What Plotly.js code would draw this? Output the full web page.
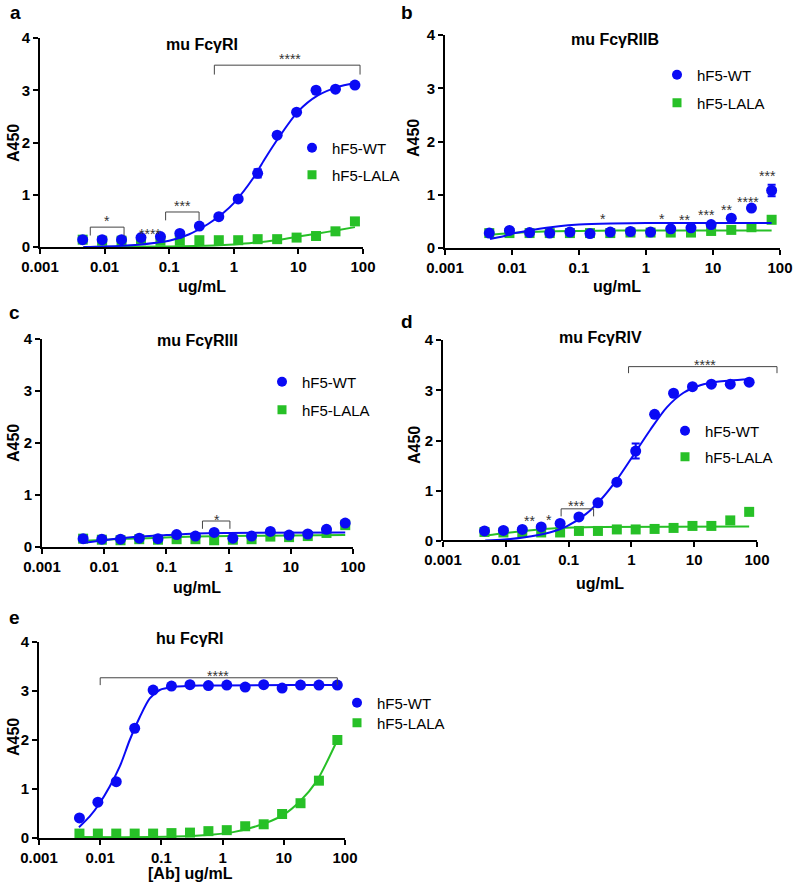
<!DOCTYPE html>
<html><head><meta charset="utf-8">
<script src="https://cdn.plot.ly/plotly-3.0.1.min.js"></script>
<style>body{margin:0;padding:0;background:#fff;} #chart{width:800px;height:886px;}</style>
</head><body><div id="chart"></div>
<script>
// ---------------- data ----------------
const conc = [0.00458, 0.00916, 0.0183, 0.0366, 0.0732, 0.146, 0.293, 0.586, 1.17, 2.34, 4.69, 9.38, 18.75, 37.5, 75];
const seriesNames = ['hF5-WT', 'hF5-LALA'];
const panelLetters = ['a', 'b', 'c', 'd', 'e'];
const panelTitles = ['mu FcγRI', 'mu FcγRIIB', 'mu FcγRIII', 'mu FcγRIV', 'hu FcγRI'];
const xTitles = ['ug/mL', 'ug/mL', 'ug/mL', 'ug/mL', '[Ab] ug/mL'];
const yTitleText = 'A450';
const xTickVals = [0.001, 0.01, 0.1, 1, 10, 100];
const xTickText = ['0.001', '0.01', '0.1', '1', '10', '100'];
const yTickVals = [0, 1, 2, 3, 4];

// panel a: mu FcγRI
const aWT    = [0.14, 0.14, 0.14, 0.18, 0.20, 0.26, 0.40, 0.58, 0.92, 1.41, 2.14, 2.58, 3.00, 3.02, 3.10];
const aWTerr = [0, 0, 0, 0, 0, 0, 0, 0, 0, 0.08, 0, 0, 0, 0, 0];
const aLALA  = [0.14, 0.12, 0.12, 0.13, 0.12, 0.12, 0.13, 0.13, 0.13, 0.15, 0.15, 0.18, 0.21, 0.30, 0.49];
const aWTfitX   = [0.0047, 0.01, 0.03, 0.1, 0.2, 0.4, 0.7, 1, 2, 3, 5, 10, 20, 40, 75];
const aWTfitY   = [0.00, 0.01, 0.04, 0.12, 0.24, 0.44, 0.66, 0.84, 1.32, 1.68, 2.10, 2.60, 2.90, 3.06, 3.14];
const aLALAfitX = [0.0047, 0.1, 0.5, 1, 2, 5, 10, 20, 40, 75];
const aLALAfitY = [0.00, 0.01, 0.03, 0.05, 0.08, 0.14, 0.20, 0.26, 0.32, 0.38];
const aBrackets = [[0.006, 0.02, 0.38, 0.22], [0.088, 0.29, 0.67, 0.51], [0.5, 90, 3.48, 3.30]];
const aStars    = [['*', 0.011, 0.58], ['****', 0.05, 0.33], ['***', 0.16, 0.86], ['****', 7.5, 3.68]];

// panel b: mu FcγRIIB
const bWT    = [0.28, 0.33, 0.29, 0.28, 0.30, 0.27, 0.30, 0.31, 0.30, 0.36, 0.38, 0.44, 0.56, 0.75, 1.08];
const bWTerr = [0, 0, 0, 0, 0, 0, 0, 0, 0, 0, 0, 0, 0, 0, 0.11];
const bLALA  = [0.28, 0.28, 0.28, 0.28, 0.28, 0.28, 0.28, 0.29, 0.29, 0.29, 0.29, 0.32, 0.34, 0.39, 0.53];
const bWTfitX   = [0.0047, 0.0075, 0.01, 0.02, 0.05, 0.1, 0.3, 1, 10, 75];
const bWTfitY   = [0.17, 0.22, 0.27, 0.34, 0.41, 0.44, 0.46, 0.47, 0.47, 0.47];
const bLALAfitX = [0.0047, 0.01, 0.03, 0.1, 1, 75];
const bLALAfitY = [0.25, 0.28, 0.31, 0.32, 0.33, 0.33];
const bBrackets = [];
const bStars    = [['*', 0.225, 0.62], ['*', 1.75, 0.62], ['**', 3.8, 0.6], ['***', 7.9, 0.69], ['**', 16, 0.79], ['****', 33, 0.94], ['***', 65.5, 1.42]];

// panel c: mu FcγRIII
const cWT    = [0.16, 0.15, 0.15, 0.17, 0.16, 0.24, 0.21, 0.28, 0.17, 0.21, 0.30, 0.23, 0.25, 0.34, 0.46];
const cWTerr = null;
const cLALA  = [0.16, 0.14, 0.13, 0.15, 0.14, 0.15, 0.15, 0.13, 0.14, 0.15, 0.20, 0.19, 0.21, 0.27, 0.42];
const cWTfitX   = [0.0047, 0.01, 0.03, 0.1, 0.3, 1, 75];
const cWTfitY   = [0.08, 0.13, 0.19, 0.23, 0.26, 0.27, 0.28];
const cLALAfitX = [0.0047, 0.01, 0.05, 0.3, 1, 10, 75];
const cLALAfitY = [0.12, 0.14, 0.17, 0.20, 0.21, 0.22, 0.23];
const cBrackets = [[0.38, 1.05, 0.50, 0.35]];
const cStars    = [['*', 0.64, 0.59]];

// panel d: mu FcγRIV
const dWT    = [0.20, 0.21, 0.23, 0.28, 0.35, 0.48, 0.76, 1.17, 1.79, 2.52, 2.94, 3.07, 3.12, 3.12, 3.16];
const dWTerr = [0, 0, 0, 0, 0, 0, 0, 0, 0.15, 0, 0, 0, 0, 0, 0];
const dLALA  = [0.18, 0.17, 0.17, 0.17, 0.17, 0.20, 0.20, 0.23, 0.23, 0.24, 0.26, 0.30, 0.30, 0.41, 0.58];
const dWTfitX   = [0.0047, 0.0094, 0.019, 0.05, 0.093, 0.19, 0.32, 0.58, 1.08, 1.99, 3.66, 6.76, 12.5, 23, 75];
const dWTfitY   = [0.01, 0.03, 0.07, 0.17, 0.29, 0.54, 0.81, 1.21, 1.71, 2.21, 2.66, 2.95, 3.10, 3.17, 3.22];
const dLALAfitX = [0.0047, 0.019, 0.07, 0.3, 75];
const dLALAfitY = [0.11, 0.20, 0.26, 0.28, 0.29];
const dBrackets = [[0.076, 0.25, 0.64, 0.49], [0.9, 208, 3.47, 3.34]];
const dStars    = [['**', 0.024, 0.48], ['*', 0.0485, 0.49], ['***', 0.134, 0.78], ['****', 15, 3.58]];

// panel e: hu FcγRI
const eWT    = [0.41, 0.73, 1.15, 2.24, 3.02, 3.10, 3.13, 3.11, 3.12, 3.08, 3.13, 3.06, 3.12, 3.12, 3.12];
const eWTerr = null;
const eLALA  = [0.09, 0.09, 0.09, 0.09, 0.09, 0.10, 0.11, 0.14, 0.16, 0.24, 0.28, 0.49, 0.71, 1.17, 2.00];
const eWTfitX   = [0.0045, 0.00675, 0.0098, 0.0143, 0.0209, 0.0304, 0.0444, 0.0646, 0.094, 0.156, 0.425, 75];
const eWTfitY   = [0.22, 0.44, 0.71, 1.05, 1.46, 2.00, 2.47, 2.85, 3.02, 3.08, 3.11, 3.12];
const eLALAfitX = [0.0045, 0.0646, 0.425, 1.49, 5.2, 9.8, 18.4, 34, 75];
const eLALAfitY = [0.02, 0.02, 0.05, 0.12, 0.31, 0.47, 0.75, 1.15, 2.00];
const eBrackets = [[0.01, 75, 3.27, 3.12]];
const eStars    = [['****', 0.85, 3.39]];

// ---------------- layout geometry (pixels) ----------------
const W = 800, H = 886;
const px = v => v / W, py = v => 1 - v / H;
const FONT = 'Liberation Sans, Arial, sans-serif';
const BLUE = '#0a0af5', GREEN = '#27c027', BRK = '#444';

const panels = [
  {wt: aWT, wtErr: aWTerr, lala: aLALA, wfx: aWTfitX, wfy: aWTfitY, lfx: aLALAfitX, lfy: aLALAfitY, br: aBrackets, st: aStars,
   box: [40, 363, 38, 247], xr: [-3, 2], title: [202, 44], letter: [15, 12], xt: [202, 287], yt: [13, 143], leg: [312, 148, 175]},
  {wt: bWT, wtErr: bWTerr, lala: bLALA, wfx: bWTfitX, wfy: bWTfitY, lfx: bLALAfitX, lfy: bLALAfitY, br: bBrackets, st: bStars,
   box: [445, 780, 35, 248], xr: [-3, 2], title: [615, 40], letter: [407, 12], xt: [617, 287], yt: [413, 138], leg: [677, 75, 103]},
  {wt: cWT, wtErr: cWTerr, lala: cLALA, wfx: cWTfitX, wfy: cWTfitY, lfx: cLALAfitX, lfy: cLALAfitY, br: cBrackets, st: cStars,
   box: [42, 353, 339, 547], xr: [-3, 2], title: [197, 340], letter: [14, 313], xt: [197, 587], yt: [13, 443], leg: [282, 382, 410]},
  {wt: dWT, wtErr: dWTerr, lala: dLALA, wfx: dWTfitX, wfy: dWTfitY, lfx: dLALAfitX, lfy: dLALAfitY, br: dBrackets, st: dStars,
   box: [443, 779, 340, 541], xr: [-3, 2.35], title: [600, 337], letter: [407, 321], xt: [600, 583], yt: [415, 445], leg: [685, 431, 457]},
  {wt: eWT, wtErr: eWTerr, lala: eLALA, wfx: eWTfitX, wfy: eWTfitY, lfx: eLALAfitX, lfy: eLALAfitY, br: eBrackets, st: eStars,
   box: [39, 345, 642, 838], xr: [-3, 2], title: [190, 638], letter: [14, 617], xt: [190, 873], yt: [13, 737], leg: [357, 703, 723]},
];

const traces = [];
const annotations = [];
const shapes = [];
const layout = {
  width: W, height: H, margin: {l: 0, r: 0, t: 0, b: 0},
  paper_bgcolor: '#fff', plot_bgcolor: 'rgba(0,0,0,0)',
  showlegend: true, annotations, shapes, hovermode: false,
  font: {family: FONT, color: '#000'}
};
const boldFont = (size) => ({family: FONT, size, color: '#000', weight: 'bold'});
const textAt = (x, y, text, font, extra) => Object.assign({xref: 'paper', yref: 'paper', x: px(x), y: py(y),
  xanchor: 'center', yanchor: 'middle', text, showarrow: false, font}, extra || {});

let legCount = 0;
function makeLegend(markerX, centerY) {
  legCount += 1;
  const id = legCount === 1 ? 'legend' : 'legend' + legCount;
  layout[id] = {x: px(markerX - 20), y: py(centerY), xanchor: 'left', yanchor: 'middle',
    font: {family: FONT, size: 15, color: '#000'}, bgcolor: 'rgba(0,0,0,0)',
    itemclick: false, itemdoubleclick: false};
  return id;
}

panels.forEach((p, i) => {
  const n = i + 1;
  const xa = n === 1 ? 'x' : 'x' + n, ya = n === 1 ? 'y' : 'y' + n;
  const [x0, x1, yTop, yBot] = p.box;
  const extended = p.xr[1] > 2;
  layout[n === 1 ? 'xaxis' : 'xaxis' + n] = {
    type: 'log', domain: [px(x0), px(x1)], anchor: ya, range: p.xr,
    tickvals: xTickVals, ticktext: xTickText, ticks: 'outside', ticklen: 5, tickwidth: 2, tickcolor: '#000',
    showline: !extended, linewidth: 2, linecolor: '#000', showgrid: false, zeroline: false,
    tickfont: boldFont(15), ticklabelstandoff: 0, fixedrange: true
  };
  layout[n === 1 ? 'yaxis' : 'yaxis' + n] = {
    domain: [py(yBot), py(yTop)], anchor: xa, range: [0, 4],
    tickvals: yTickVals, ticks: 'outside', ticklen: 5, tickwidth: 2, tickcolor: '#000',
    showline: true, linewidth: 2, linecolor: '#000', showgrid: false, zeroline: false,
    tickfont: boldFont(15), fixedrange: true
  };
  if (extended) {
    shapes.push({type: 'line', xref: xa, yref: ya + ' domain', x0: 0.001, x1: 100, y0: 0, y1: 0,
                 line: {color: '#000', width: 2}, layer: 'above'});
  }
  const legWT = makeLegend(p.leg[0], p.leg[1]);
  const legLALA = makeLegend(p.leg[0], p.leg[2]);

  // LALA markers + fit
  traces.push({type: 'scatter', mode: 'markers', x: conc, y: p.lala, xaxis: xa, yaxis: ya, showlegend: false,
    marker: {color: GREEN, symbol: 'square', size: 10}, cliponaxis: false});
  traces.push({type: 'scatter', mode: 'lines', x: p.lfx, y: p.lfy, xaxis: xa, yaxis: ya, showlegend: false,
    line: {color: GREEN, width: 2, shape: 'spline', smoothing: 0.8}});
  // WT markers + fit
  traces.push({type: 'scatter', mode: 'markers', x: conc, y: p.wt, xaxis: xa, yaxis: ya, showlegend: false,
    marker: {color: BLUE, symbol: 'circle', size: 11}, cliponaxis: false});
  if (p.wtErr) {
    traces.push({type: 'scatter', mode: 'markers', x: conc, y: p.wt, xaxis: xa, yaxis: ya, showlegend: false,
      marker: {color: BLUE, size: 1, opacity: 0}, cliponaxis: false,
      error_y: {type: 'data', array: p.wtErr, visible: true, color: BLUE, thickness: 2, width: 4}});
  }
  traces.push({type: 'scatter', mode: 'lines', x: p.wfx, y: p.wfy, xaxis: xa, yaxis: ya, showlegend: false,
    line: {color: BLUE, width: 2, shape: 'spline', smoothing: 0.8}});
  // legend entries (legend-only items)
  traces.push({type: 'scatter', mode: 'markers', x: [null], y: [null], xaxis: xa, yaxis: ya,
    name: seriesNames[0], legend: legWT, showlegend: true, marker: {color: BLUE, symbol: 'circle', size: 10}});
  traces.push({type: 'scatter', mode: 'markers', x: [null], y: [null], xaxis: xa, yaxis: ya,
    name: seriesNames[1], legend: legLALA, showlegend: true, marker: {color: GREEN, symbol: 'square', size: 9}});

  // significance brackets
  p.br.forEach(b => {
    traces.push({type: 'scatter', mode: 'lines', x: [b[0], b[0], b[1], b[1]], y: [b[3], b[2], b[2], b[3]],
      xaxis: xa, yaxis: ya, showlegend: false, line: {color: BRK, width: 1}, cliponaxis: false});
  });
  p.st.forEach(s => {
    annotations.push({xref: xa, yref: ya, x: Math.log10(s[1]), y: s[2], text: s[0], showarrow: false,
      xanchor: 'center', yanchor: 'middle', yshift: -4, font: {family: FONT, size: 14, color: '#333'}});
  });

  annotations.push(textAt(p.title[0], p.title[1], panelTitles[i], boldFont(16)));
  annotations.push(textAt(p.letter[0], p.letter[1], panelLetters[i], boldFont(19)));
  annotations.push(textAt(p.xt[0], p.xt[1], xTitles[i], boldFont(16)));
  annotations.push(textAt(p.yt[0], p.yt[1], yTitleText, boldFont(16), {textangle: -90}));
});

Plotly.newPlot('chart', traces, layout, {staticPlot: true, displayModeBar: false});
</script>
</body></html>
